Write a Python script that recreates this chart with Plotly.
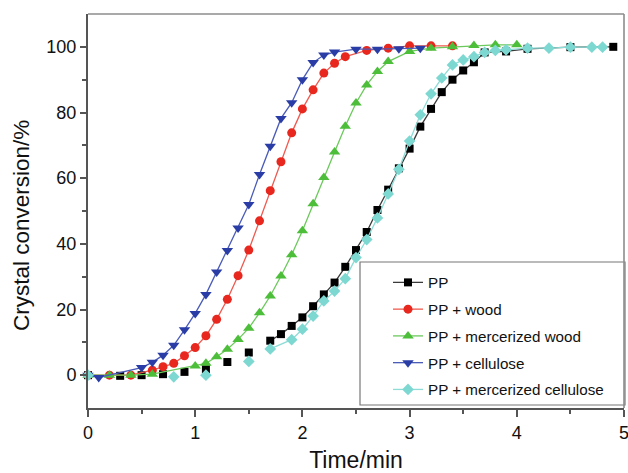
import plotly.graph_objects as go

# ---- data ----
pp_x = [0, 0.3, 0.5, 0.7, 0.9, 1.1, 1.3, 1.5, 1.7, 1.8, 1.9, 2.0, 2.1, 2.2, 2.3, 2.4, 2.5, 2.6, 2.7,
        2.8, 2.9, 3.0, 3.1, 3.2, 3.3, 3.4, 3.5, 3.6, 3.7, 3.9, 4.1, 4.5, 4.9]
pp_y = [0, -0.2, 0, 0.3, 1.0, 1.8, 4.0, 6.9, 10.5, 12.5, 15.0, 17.6, 21.0, 24.6, 28.2, 33.0, 38.1, 43.6,
        50.3, 56.5, 63.0, 69.0, 75.7, 81.1, 86.2, 90.0, 92.8, 95.3, 98.3, 98.6, 99.4, 99.9, 100.0]

wood_x = [0, 0.2, 0.4, 0.6, 0.7, 0.8, 0.9, 1.0, 1.1, 1.2, 1.3, 1.4, 1.5, 1.6, 1.7, 1.8, 1.9, 2.0,
          2.1, 2.2, 2.3, 2.4, 2.6, 2.8, 3.0, 3.2, 3.4]
wood_y = [0, 0, 0, 1.5, 2.6, 3.6, 5.9, 8.4, 12.0, 17.0, 23.1, 30.3, 38.1, 47.0, 56.2, 65.0, 73.8, 81.1,
          86.9, 92.0, 95.0, 97.0, 98.9, 99.6, 100.3, 100.3, 100.3]

mwood_x = [0, 0.2, 0.4, 0.6, 1.0, 1.1, 1.2, 1.3, 1.4, 1.5, 1.6, 1.7, 1.8, 1.9, 2.0, 2.1, 2.2, 2.3,
           2.4, 2.5, 2.6, 2.7, 2.8, 3.0, 3.2, 3.4, 3.6, 3.8, 4.0]
mwood_y = [0, 0, 0, 0.3, 2.8, 3.6, 5.6, 7.9, 10.9, 14.3, 19.0, 24.1, 30.2, 36.7, 44.0, 52.2, 60.2, 68.0,
           75.8, 82.9, 88.4, 92.5, 95.5, 98.6, 99.6, 100.0, 100.4, 100.6, 100.6]

cell_x = [0, 0.1, 0.5, 0.6, 0.7, 0.8, 0.9, 1.0, 1.1, 1.2, 1.3, 1.4, 1.5, 1.6, 1.7, 1.8, 1.9, 2.0,
          2.1, 2.2, 2.3, 2.5, 2.7, 2.9, 3.1]
cell_y = [0, -0.7, 2.3, 3.9, 6.1, 9.1, 13.8, 18.8, 24.6, 31.4, 38.0, 44.8, 52.0, 61.1, 69.7, 78.2, 83.0,
          90.0, 95.2, 97.5, 98.4, 99.3, 99.3, 99.4, 99.6]

mcell_x = [0, 0.8, 1.1, 1.5, 1.7, 1.9, 2.0, 2.1, 2.2, 2.3, 2.4, 2.5, 2.6, 2.7, 2.8, 2.9, 3.0, 3.1,
           3.2, 3.3, 3.4, 3.5, 3.6, 3.7, 3.8, 3.9, 4.1, 4.3, 4.5, 4.7, 4.8]
mcell_y = [0, -0.5, 0, 4.2, 8.0, 10.8, 14.0, 18.0, 22.6, 25.6, 29.4, 35.8, 41.3, 47.9, 55.2, 62.7, 71.3,
           79.3, 85.7, 90.5, 94.5, 96.0, 97.0, 98.3, 98.9, 99.1, 99.6, 99.6, 99.9, 99.9, 99.9]

x_ticks = [0, 1, 2, 3, 4, 5]
y_ticks = [0, 20, 40, 60, 80, 100]

series = [
    # name, x, y, marker color, line color, symbol, size, index where connecting line starts
    ("PP", pp_x, pp_y, "#000000", "#3a3a3a", "square", 8, 8),
    ("PP + wood", wood_x, wood_y, "#e8271e", "#ef5a50", "circle", 9, 0),
    ("PP + mercerized wood", mwood_x, mwood_y, "#4cbe3a", "#6cc95c", "triangle-up", 10, 0),
    ("PP + cellulose", cell_x, cell_y, "#2a3da6", "#4a5bb8", "triangle-down", 10, 0),
    ("PP + mercerized cellulose", mcell_x, mcell_y, "#7dd8d2", "#8ddcd6", "diamond", 9, 4),
]

fig = go.Figure()
for name, xs, ys, mc, lc, sym, sz, k in series:
    if k > 0:
        fig.add_trace(go.Scatter(
            x=xs[:k], y=ys[:k], mode="markers", legendgroup=name, showlegend=False,
            marker=dict(symbol=sym, size=sz, color=mc, line=dict(width=0)),
            cliponaxis=False))
    fig.add_trace(go.Scatter(
        x=xs[k:], y=ys[k:], mode="lines+markers", name=name, legendgroup=name,
        line=dict(color=lc, width=1.3),
        marker=dict(symbol=sym, size=sz, color=mc, line=dict(width=0)),
        cliponaxis=False))

font_family = "Arial, Liberation Sans, sans-serif"
L, R, T, B = 88, 4, 14, 65
W, H = 628, 473
PW, PH = W - L - R, H - T - B


def px_to_paper(px, py):
    return (px - L) / PW, (H - B - py) / PH


lx0, ly0 = px_to_paper(360, 262)
lx1, ly1 = px_to_paper(625, 405)
legx, legy = px_to_paper(388, 266)
ytx, yty = px_to_paper(21, 226)

frame = "#8c8c8c"
axis_c = "#555555"

fig.update_layout(
    width=W, height=H,
    margin=dict(l=L, r=R, t=T, b=B, autoexpand=False),
    paper_bgcolor="white", plot_bgcolor="white",
    font=dict(family=font_family, color="#111111", size=15),
    showlegend=True,
    legend=dict(
        x=legx, y=legy, xanchor="left", yanchor="top",
        bgcolor="rgba(0,0,0,0)", borderwidth=0,
        font=dict(size=15.2, color="#111111"),
        tracegroupgap=4, traceorder="grouped",
    ),
    shapes=[
        dict(type="rect", xref="paper", yref="paper", x0=lx0, y0=ly0, x1=lx1, y1=ly1,
             line=dict(color="#777777", width=1.2), fillcolor="white", layer="below"),
        dict(type="line", xref="paper", yref="paper", x0=0, y0=1, x1=1, y1=1,
             line=dict(color=frame, width=1.6), layer="below"),
        dict(type="line", xref="paper", yref="paper", x0=1, y0=0, x1=1, y1=1,
             line=dict(color=frame, width=1.6), layer="below"),
    ],
    xaxis=dict(
        range=[0, 5], tickvals=x_ticks, ticktext=[str(v) for v in x_ticks],
        automargin=False, ticklabeloverflow="allow",
        showgrid=False, zeroline=False,
        showline=True, linecolor=axis_c, linewidth=2, mirror=False,
        ticks="outside", ticklen=7, tickwidth=2, tickcolor=axis_c,
        minor=dict(dtick=0.5, ticks="outside", ticklen=4, tickwidth=2, tickcolor=axis_c),
        tickfont=dict(size=18),
        title=dict(text="Time/min", font=dict(size=23), standoff=11),
    ),
    yaxis=dict(
        range=[-10, 110], tickvals=y_ticks, ticktext=[str(v) for v in y_ticks],
        automargin=False, ticklabeloverflow="allow",
        showgrid=False, zeroline=False,
        showline=True, linecolor=axis_c, linewidth=2, mirror=False,
        ticks="outside", ticklen=6, tickwidth=2, tickcolor=axis_c,
        minor=dict(tickvals=[10, 30, 50, 70, 90], ticks="outside", ticklen=4, tickwidth=2,
                   tickcolor=axis_c),
        tickfont=dict(size=18),
    ),
    annotations=[dict(
        text="Crystal conversion/%", xref="paper", yref="paper",
        x=ytx, y=yty, xanchor="center", yanchor="middle", textangle=-90,
        showarrow=False, font=dict(size=22.5, color="#111111"))],
)

fig.write_html("out.html", config={"displayModeBar": False},
               post_script="document.body.style.margin='0px';")
